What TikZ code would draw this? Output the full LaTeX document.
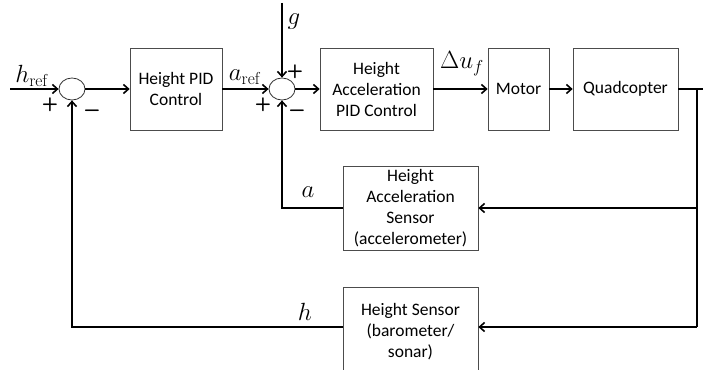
\documentclass[tikz,border=0pt]{standalone}
\usepackage[no-math]{fontspec}
\setmainfont{Carlito}
\usetikzlibrary{shapes.geometric,arrows.meta}
\begin{document}
\begin{tikzpicture}[x=1pt,y=-1pt,
  blk/.style={draw=black!70,line width=0.7pt,align=center,inner sep=0pt,
    font=\fontsize{17.5}{21}\selectfont},
  sumj/.style={ellipse,draw=black!80,line width=0.8pt,minimum width=26pt,minimum height=22pt,inner sep=0pt},
  sig/.style={line width=1.8pt,-{Straight Barb[length=5pt,width=9pt,line width=1.6pt]}},
  wire/.style={line width=1.8pt},
  mlab/.style={font=\fontsize{27}{30}\selectfont,inner sep=0pt},
  sgn/.style={font=\sffamily\bfseries\fontsize{19}{22}\selectfont,inner sep=0pt}]
\useasboundingbox (0,0) rectangle (703,369);
\fill[white] (0,0) rectangle (703,369);
% blocks
\node[blk,minimum width=92pt,minimum height=82pt] (pid1) at (176,89) {Height PID\\Control};
\node[blk,minimum width=113pt,minimum height=82pt] (pid2) at (376.5,89) {Height\\Acceleration\\PID Control};
\node[blk,minimum width=61pt,minimum height=82pt] (motor) at (518.5,89) {Motor};
\node[blk,minimum width=105pt,minimum height=82pt] (quad) at (625.5,89) {Quadcopter};
\node[blk,minimum width=135pt,minimum height=84pt] (asens) at (410.5,208) {Height\\Acceleration\\Sensor\\(accelerometer)};
\node[blk,minimum width=135pt,minimum height=90pt] (hsens) at (410.5,332) {Height Sensor\\(barometer/\\sonar)};
% summing junctions
\node[sumj] (s1) at (72,89) {};
\node[sumj] (s2) at (282,89) {};
% coordinates
\coordinate (in) at (10,89);
\coordinate (gtop) at (282,3);
\coordinate (out) at (703,89);
\coordinate (tapA) at (697,208);
\coordinate (tapH) at (697,327);
\coordinate (fa) at (282,208);
\coordinate (fh) at (72,327);
% forward path
\draw[sig] (in) -- (s1);
\draw[sig] (s1) -- (pid1);
\draw[sig] (pid1) -- (s2);
\draw[sig] (gtop) -- (s2);
\draw[sig] (s2) -- (pid2);
\draw[sig] (pid2) -- (motor);
\draw[sig] (motor) -- (quad);
\draw[wire] (quad) -- (out);
\draw[wire] (697,89) -- (tapH);
% feedback
\draw[sig] (tapA) -- (asens.east);
\draw[sig] (tapH) -- (hsens.east |- tapH);
\draw[sig] (asens.west) -- (fa) -- (s2.south);
\draw[sig] (hsens.west |- tapH) -- (fh) -- (s1.south);
% labels
\node[mlab] at (32,76) {$h_{\mathrm{ref}}$};
\node[mlab] at (245,77) {$a_{\mathrm{ref}}$};
\node[mlab] at (294,22) {$g$};
\node[mlab] at (462,64) {$\Delta u_f$};
\node[mlab] at (308,192) {$a$};
\node[mlab] at (305,312) {$h$};
% signs
\node[sgn] at (50,105) {+};
\node[sgn] at (92,113) {\textminus};
\node[sgn] at (295,72) {+};
\node[sgn] at (263,105) {+};
\node[sgn] at (297,113) {\textminus};
\end{tikzpicture}
\end{document}
